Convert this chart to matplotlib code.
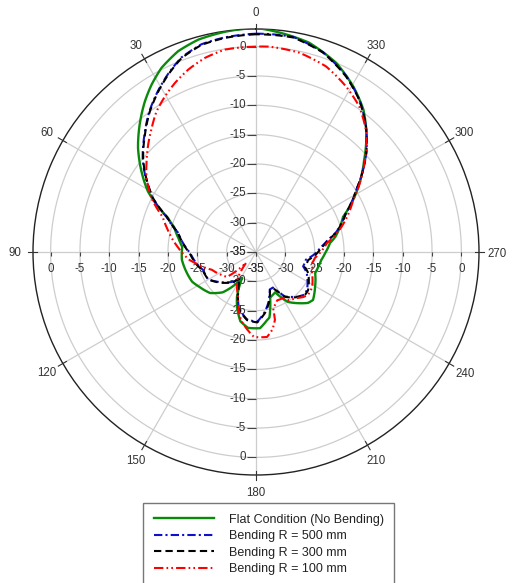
import numpy as np
import matplotlib
matplotlib.use("Agg")
import matplotlib.pyplot as plt

# ---------------- data (angle in degrees, CCW from top; gain in dB) ----------------
flat_ang = [0, 8, 15.2, 21.2, 27.2, 32, 36.4, 42.4, 48.6, 54.9, 60.75, 64, 68.8, 73, 80, 86,
            96, 107, 115, 122, 131.7, 140.5, 148.5, 151.7, 157, 161, 167.3, 174, 183, 189,
            191.6, 197.3, 205.4, 209.5, 212.6, 219.5, 225.6, 229.9, 239.3, 250.4, 256.4, 263,
            269.2, 276.9, 281, 292, 300.5, 310.4, 317.2, 323, 329.5, 337, 345.8, 354.8, 360]
flat_db = [3.2, 2.9, 2.5, 1.7, 0.26, -1.4, -3.1, -5.6, -8.2, -11.15, -13.9, -15.9, -18.9,
           -20.4, -21.6, -22.4, -22.3, -22.7, -23.0, -23.7, -24.5, -26.1, -28.8, -30.0, -26.7,
           -25.1, -22.9, -22.0, -22.0, -23.2, -23.6, -26.9, -27.4, -26.0, -24.9, -23.7, -22.6,
           -22.3, -23.3, -24.3, -24.1, -23.8, -23.2, -22.3, -21.2, -19.0, -15.2, -10.8, -7.3,
           -4.6, -2.3, 0.0, 1.8, 2.7, 3.2]

r500_ang = [0, 8.25, 14.7, 21, 26.4, 31.4, 37.1, 43.5, 50.3, 54.1, 58.1, 62.4, 68.5, 76, 91,
            102.4, 108.8, 119.7, 127.6, 136.9, 143, 148.4, 155, 163, 172.5, 181, 188.4, 194,
            200.2, 205.3, 210.3, 212.8, 223, 228.7, 233.8, 248, 253, 261.3, 267, 274.3, 279.5,
            284, 293.4, 301.8, 312, 318.7, 325.9, 332.8, 341.4, 350.2, 360]
r500_db = [2.2, 1.95, 1.6, 0.5, -1.2, -2.9, -4.9, -7.4, -9.9, -11.5, -13.3, -15.1, -18.6,
           -21.3, -23.8, -24.8, -25.5, -25.6, -26.7, -27.9, -28.7, -29.7, -27.9, -25.0, -23.4,
           -23.1, -24.7, -26.2, -28.2, -28.3, -27.0, -26.0, -24.6, -24.0, -24.2, -25.7, -26.6,
           -26.4, -25.2, -23.9, -22.6, -20.9, -18.3, -14.9, -9.7, -6.6, -3.6, -1.3, 0.9, 2.2,
           2.2]

r300_ang = [0, 8.25, 14.7, 21, 26.4, 31.4, 37.1, 43.5, 50.3, 54.1, 58.1, 62.4, 68.5, 76, 91,
            102.4, 108.8, 119.7, 127.6, 136.9, 143, 148.4, 155, 163, 172.5, 181, 188.4, 194,
            200.2, 205.3, 210.3, 212.8, 223, 228.7, 233.8, 248, 253, 261.3, 267, 274.3, 279.5,
            284, 293.4, 301.8, 312, 318.7, 325.9, 332.8, 341.4, 350.2, 360]
r300_db = [2.1, 1.86, 1.5, 0.4, -1.3, -3.0, -5.0, -7.5, -10.0, -11.6, -13.35, -15.2, -18.7,
           -21.3, -23.7, -24.7, -25.4, -25.6, -26.6, -27.8, -28.6, -29.7, -27.8, -24.9, -23.3,
           -23.0, -24.5, -26.0, -28.1, -28.2, -26.9, -25.9, -24.5, -23.9, -24.0, -25.4, -26.3,
           -26.0, -24.9, -23.7, -22.5, -20.8, -18.3, -14.9, -9.7, -6.6, -3.65, -1.4, 0.85, 2.1,
           2.1]

r100_ang = [0, 8.7, 14.75, 20.4, 25.6, 30.4, 35.3, 40.1, 45.2, 50.4, 56, 62.8, 69.4, 75, 86.2,
            96.9, 100.7, 112, 122, 130.8, 137.7, 145, 150, 157.3, 167.6, 178.7, 187.4, 192,
            195.6, 197, 203.6, 210.4, 213.7, 221.7, 226.2, 230.4, 238, 249.4, 258.9, 264.2,
            271.7, 277.2, 284.8, 298.2, 307.5, 317.2, 324.6, 331.4, 339.3, 347.8, 356.4, 360]
r100_db = [0.0, -0.1, -0.8, -1.85, -3.05, -4.3, -5.65, -7.4, -9.1, -10.8, -12.5, -15.0, -18.0,
           -19.3, -21.6, -23.6, -24.6, -26.9, -27.8, -28.5, -32.5, -29.6, -28.5, -27.0, -23.1,
           -20.5, -20.4, -21.5, -23.0, -25.0, -26.0, -25.9, -25.15, -24.5, -23.9, -23.5, -23.7,
           -24.8, -25.25, -24.9, -23.7, -22.8, -20.3, -16.2, -12.0, -7.3, -4.6, -2.9, -1.2,
           -0.24, 0.07, 0.0]

series_names = ["Flat Condition (No Bending)", "Bending R = 500 mm",
                "Bending R = 300 mm", "Bending R = 100 mm"]

ring_values = [-35, -30, -25, -20, -15, -10, -5, 0]
ring_labels = ["-35", "-30", "-25", "-20", "-15", "-10", "-5", "0"]
angle_ticks = [0, 30, 60, 90, 120, 150, 180, 210, 240, 270, 300, 330]
angle_labels = ["0", "30", "60", "90", "120", "150", "180", "210", "240", "270", "300", "330"]
r_min, r_max = -35, 3

# ---------------- figure ----------------
plt.rcParams["font.family"] = ["Liberation Sans", "DejaVu Sans"]
W, H = 512, 583
fig = plt.figure(figsize=(W / 100, H / 100), dpi=100)
cx, cy, R = 256, 252, 223
ax = fig.add_axes([(cx - R) / W, (H - cy - R) / H, 2 * R / W, 2 * R / H], projection="polar")
ax.set_theta_zero_location("N")
ax.set_theta_direction(1)
ax.set_ylim(r_min, r_max)
ax.grid(False)
ax.set_xticks([])
ax.set_yticks([])
ax.spines["polar"].set_color("#222222")
ax.spines["polar"].set_linewidth(1.0)

grid_c = "#cdcdcd"
th = np.linspace(0, 2 * np.pi, 721)
for rv in ring_values[1:]:
    ax.plot(th, np.full_like(th, rv), color=grid_c, lw=0.9, zorder=1)
for a in angle_ticks:
    t = np.deg2rad(a)
    ax.plot([t, t], [r_min, r_max], color=grid_c, lw=0.9, zorder=1)
    ax.plot([t, t], [r_max - 0.7, r_max + 0.9], color="#333333", lw=0.8, zorder=3, clip_on=False)

txt_c = "#333333"
fs = 8.3
# angle labels
for a, lab in zip(angle_ticks, angle_labels):
    t = np.deg2rad(a)
    dx, dy = -np.sin(t) * 18, np.cos(t) * 17
    ax.annotate(lab, xy=(t, r_max), xytext=(dx, dy - 1.5), textcoords="offset pixels",
                ha="center", va="center", fontsize=fs, color=txt_c, annotation_clip=False)

# radial labels on the four axes
for a in [0, 180]:
    t = np.deg2rad(a)
    ax.plot([t] * len(ring_values), ring_values, linestyle="none", marker=0, markersize=6.3,
            mew=0.8, color="#444444", zorder=3, clip_on=False)
    for rv, lab in zip(ring_values, ring_labels):
        ax.annotate(lab, xy=(t, rv), xytext=(-10, 0), textcoords="offset pixels",
                    ha="right", va="center", fontsize=fs, color=txt_c, annotation_clip=False)
for a in [90, 270]:
    t = np.deg2rad(a)
    ax.plot([t] * len(ring_values), ring_values, linestyle="none", marker=3, markersize=3,
            mew=0.8, color="#444444", zorder=3, clip_on=False)
    for rv, lab in zip(ring_values, ring_labels):
        ax.annotate(lab, xy=(t, rv), xytext=(0, -17), textcoords="offset pixels",
                    ha="center", va="center", fontsize=fs, color=txt_c, annotation_clip=False)

# ---------------- curves ----------------
lw = 1.5
l_flat, = ax.plot(np.deg2rad(flat_ang), flat_db, color="#0a8a0a", lw=lw + 0.2, zorder=4,
                  label=series_names[0])
l500, = ax.plot(np.deg2rad(r500_ang), r500_db, color="#1010cc", lw=lw, zorder=5,
                label=series_names[1])
l500.set_dashes([4, 1.5, 1, 1.5])
l300, = ax.plot(np.deg2rad(r300_ang), r300_db, color="#000000", lw=lw, zorder=6,
                label=series_names[2])
l300.set_dashes([3.5, 2])
l100, = ax.plot(np.deg2rad(r100_ang), r100_db, color="#ff0000", lw=lw, zorder=7,
                label=series_names[3])
l100.set_dashes([4.5, 1.5, 0.8, 1.5, 0.8, 1.5])
# draw segments as arcs in polar space (library's own polar interpolation)
for ln in (l_flat, l500, l300, l100):
    ln.get_path()._interpolation_steps = 8
    ln.set_solid_joinstyle("round")
    ln.set_dash_joinstyle("round")

leg = fig.legend(handles=[l_flat, l500, l300, l100], loc="upper left",
                 bbox_to_anchor=(143 / W, 1 - 503 / H), fontsize=9, frameon=True,
                 fancybox=False, handlelength=4.8, handletextpad=1.2, labelspacing=0.36,
                 borderpad=0.85, borderaxespad=0)
fr = leg.get_frame()
fr.set_edgecolor("#555555")
fr.set_linewidth(1.0)
for t in leg.get_texts():
    t.set_color("#222222")

fig.savefig("out.png", dpi=100)
